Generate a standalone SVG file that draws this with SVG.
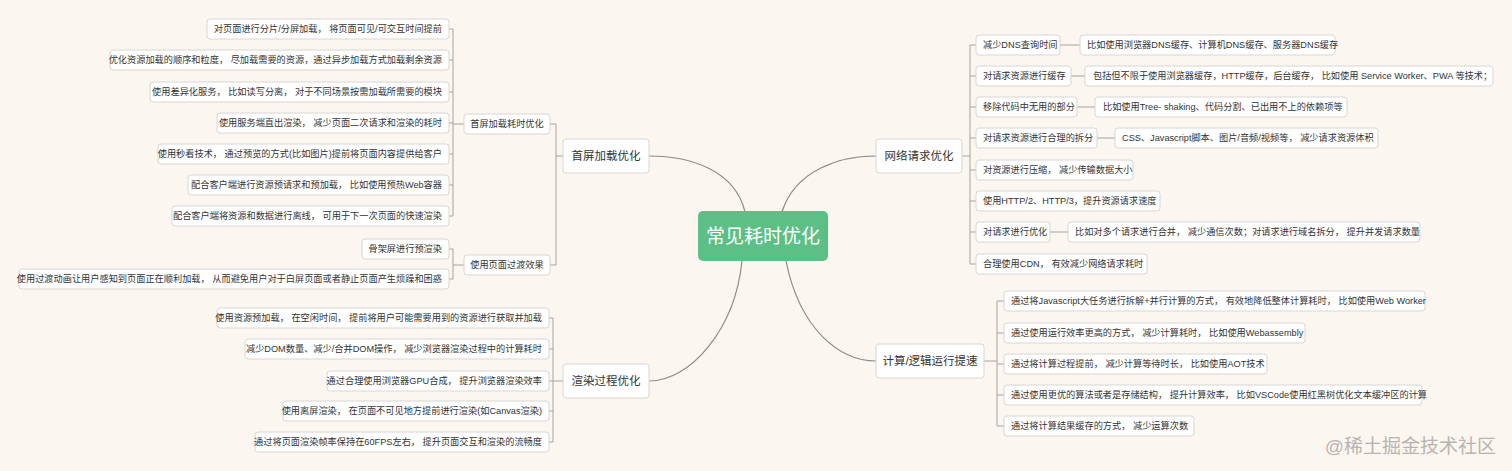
<svg xmlns="http://www.w3.org/2000/svg" width="1512" height="471" viewBox="0 0 1512 471">
<style>
text{font-family:"Liberation Sans","Noto Sans CJK SC",sans-serif;fill:#333;dominant-baseline:central}
.n rect{fill:#fff;stroke:#d9d6d3;stroke-width:1}
.l text{font-size:9.2px}
.m text{font-size:11.5px}
.c{fill:none;stroke:#a9a39e;stroke-width:1}
.cc{fill:none;stroke:#8f8a86;stroke-width:1.2}
.e{text-anchor:end}
.s{text-anchor:start}
</style>
<rect width="1512" height="471" fill="#fcf6f1"/>
<g id="connectors">
<path class="cc" d="M745 212C735 170 690 156 649 156"/>
<path class="cc" d="M742 261C735 330 690 381 649 381"/>
<path class="cc" d="M782 212C795 170 840 156 876 156"/>
<path class="cc" d="M786 261C800 330 840 361 876 361"/>
<path class="c" d="M563 156H556M556 124V265M550 124H556M550 265H556"/>
<path class="c" d="M464 124H453M453 29V216M449 29H453M449 60H453M449 92H453M449 123H453M449 154H453M449 185H453M449 216H453"/>
<path class="c" d="M464 265H453M453 249V279M449 249H453M449 279H453"/>
<path class="c" d="M563 381H553M553 318V442M549 318H553M549 349H553M549 381H553M549 411H553M549 442H553"/>
<path class="c" d="M962 156H970M970 45V264M970 45H976M970 76H976M970 107H976M970 138H976M970 170H976M970 201H976M970 232H976M970 264H976"/>
<path class="c" d="M1060 45H1080M1071 76H1085M1077 107H1095M1097 138H1115M1050 232H1068"/>
<path class="c" d="M984 361H997M997 301V426M997 301H1004M997 333H1004M997 364H1004M997 395H1004M997 426H1004"/>
</g>
<g id="center"><rect x="698" y="211" width="130" height="50" rx="5" fill="#5bbf86"/><text x="763" y="236" text-anchor="middle" font-size="19" style="fill:#fff">常见耗时优化</text></g>
<g id="n-sp" class="n m"><rect x="563" y="139" width="86" height="34" rx="3"/><text x="606" y="156" text-anchor="middle">首屏加载优化</text></g>
<g id="n-xr" class="n m"><rect x="563" y="364" width="86" height="34" rx="3"/><text x="606" y="381" text-anchor="middle">渲染过程优化</text></g>
<g id="n-wl" class="n m"><rect x="876" y="139" width="86" height="34" rx="3"/><text x="919" y="156" text-anchor="middle">网络请求优化</text></g>
<g id="n-js" class="n m"><rect x="876" y="344" width="108" height="34" rx="3"/><text x="930" y="361" text-anchor="middle">计算/逻辑运行提速</text></g>
<g id="n-sp1" class="n l"><rect x="464" y="114" width="86" height="20" rx="3"/><text x="507" y="124" text-anchor="middle">首屏加载耗时优化</text></g>
<g id="n-sp2" class="n l"><rect x="464" y="255" width="86" height="20" rx="3"/><text x="507" y="265" text-anchor="middle">使用页面过渡效果</text></g>
<g id="a1" class="n l"><rect x="207" y="19" width="242" height="20" rx="3"/><text class="e" x="442" y="29">对页面进行分片/分屏加载， 将页面可见/可交互时间提前</text></g>
<g id="a2" class="n l"><rect x="110" y="50" width="339" height="20" rx="3"/><text class="e" x="442" y="60">优化资源加载的顺序和粒度， 尽加载需要的资源，通过异步加载方式加载剩余资源</text></g>
<g id="a3" class="n l"><rect x="150" y="82" width="299" height="20" rx="3"/><text class="e" x="442" y="92">使用差异化服务， 比如读写分离， 对于不同场景按需加载所需要的模块</text></g>
<g id="a4" class="n l"><rect x="217" y="113" width="232" height="20" rx="3"/><text class="e" x="442" y="123">使用服务端直出渲染， 减少页面二次请求和渲染的耗时</text></g>
<g id="a5" class="n l"><rect x="158" y="144" width="291" height="20" rx="3"/><text class="e" x="442" y="154">使用秒看技术， 通过预览的方式(比如图片)提前将页面内容提供给客户</text></g>
<g id="a6" class="n l"><rect x="188" y="175" width="261" height="20" rx="3"/><text class="e" x="442" y="185">配合客户端进行资源预请求和预加载， 比如使用预热Web容器</text></g>
<g id="a7" class="n l"><rect x="172" y="206" width="277" height="20" rx="3"/><text class="e" x="442" y="216">配合客户端将资源和数据进行离线， 可用于下一次页面的快速渲染</text></g>
<g id="b1" class="n l"><rect x="362" y="239" width="87" height="20" rx="3"/><text class="e" x="442" y="249">骨架屏进行预渲染</text></g>
<g id="b2" class="n l"><rect x="19" y="269" width="430" height="20" rx="3"/><text class="e" x="442" y="279">使用过渡动画让用户感知到页面正在顺利加载， 从而避免用户对于白屏页面或者静止页面产生烦躁和困惑</text></g>
<g id="r1" class="n l"><rect x="217" y="308" width="332" height="20" rx="3"/><text class="e" x="542" y="318">使用资源预加载， 在空闲时间， 提前将用户可能需要用到的资源进行获取并加载</text></g>
<g id="r2" class="n l"><rect x="245" y="339" width="304" height="20" rx="3"/><text class="e" x="542" y="349">减少DOM数量、减少/合并DOM操作， 减少浏览器渲染过程中的计算耗时</text></g>
<g id="r3" class="n l"><rect x="327" y="371" width="222" height="20" rx="3"/><text class="e" x="542" y="381">通过合理使用浏览器GPU合成， 提升浏览器渲染效率</text></g>
<g id="r4" class="n l"><rect x="283" y="401" width="266" height="20" rx="3"/><text class="e" x="542" y="411">使用离屏渲染， 在页面不可见地方提前进行渲染(如Canvas渲染)</text></g>
<g id="r5" class="n l"><rect x="255" y="432" width="294" height="20" rx="3"/><text class="e" x="542" y="442">通过将页面渲染帧率保持在60FPS左右， 提升页面交互和渲染的流畅度</text></g>
<g id="w1" class="n l"><rect x="976" y="35" width="84" height="20" rx="3"/><text class="s" x="983" y="45">减少DNS查询时间</text></g>
<g id="w1a" class="n l"><rect x="1080" y="35" width="255" height="20" rx="3"/><text class="s" x="1087" y="45">比如使用浏览器DNS缓存、计算机DNS缓存、服务器DNS缓存</text></g>
<g id="w2" class="n l"><rect x="976" y="66" width="95" height="20" rx="3"/><text class="s" x="983" y="76">对请求资源进行缓存</text></g>
<g id="w2a" class="n l"><rect x="1085" y="66" width="408" height="20" rx="3"/><text class="s" x="1093" y="76">包括但不限于使用浏览器缓存，HTTP缓存，后台缓存， 比如使用 Service Worker、PWA 等技术；</text></g>
<g id="w3" class="n l"><rect x="976" y="97" width="101" height="20" rx="3"/><text class="s" x="983" y="107">移除代码中无用的部分</text></g>
<g id="w3a" class="n l"><rect x="1095" y="97" width="252" height="20" rx="3"/><text class="s" x="1103" y="107">比如使用Tree- shaking、代码分割、已出用不上的依赖项等</text></g>
<g id="w4" class="n l"><rect x="976" y="128" width="121" height="20" rx="3"/><text class="s" x="983" y="138">对请求资源进行合理的拆分</text></g>
<g id="w4a" class="n l"><rect x="1115" y="128" width="263" height="20" rx="3"/><text class="s" x="1122" y="138">CSS、Javascript脚本、图片/音频/视频等， 减少请求资源体积</text></g>
<g id="w5" class="n l"><rect x="976" y="160" width="157" height="20" rx="3"/><text class="s" x="983" y="170">对资源进行压缩， 减少传输数据大小</text></g>
<g id="w6" class="n l"><rect x="976" y="191" width="184" height="20" rx="3"/><text class="s" x="983" y="201">使用HTTP/2、HTTP/3，提升资源请求速度</text></g>
<g id="w7" class="n l"><rect x="976" y="222" width="74" height="20" rx="3"/><text class="s" x="983" y="232">对请求进行优化</text></g>
<g id="w7a" class="n l"><rect x="1068" y="222" width="352" height="20" rx="3"/><text class="s" x="1075" y="232">比如对多个请求进行合并， 减少通信次数；对请求进行域名拆分， 提升并发请求数量</text></g>
<g id="w8" class="n l"><rect x="976" y="254" width="171" height="20" rx="3"/><text class="s" x="983" y="264">合理使用CDN， 有效减少网络请求耗时</text></g>
<g id="j1" class="n l"><rect x="1004" y="291" width="421" height="20" rx="3"/><text class="s" x="1011" y="301">通过将Javascript大任务进行拆解+并行计算的方式， 有效地降低整体计算耗时， 比如使用Web Worker</text></g>
<g id="j2" class="n l"><rect x="1004" y="323" width="301" height="20" rx="3"/><text class="s" x="1011" y="333">通过使用运行效率更高的方式， 减少计算耗时， 比如使用Webassembly</text></g>
<g id="j3" class="n l"><rect x="1004" y="354" width="263" height="20" rx="3"/><text class="s" x="1011" y="364">通过将计算过程提前， 减少计算等待时长， 比如使用AOT技术</text></g>
<g id="j4" class="n l"><rect x="1004" y="385" width="418" height="20" rx="3"/><text class="s" x="1011" y="395">通过使用更优的算法或者是存储结构， 提升计算效率， 比如VSCode使用红黑树优化文本缓冲区的计算</text></g>
<g id="j5" class="n l"><rect x="1004" y="416" width="190" height="20" rx="3"/><text class="s" x="1011" y="426">通过将计算结果缓存的方式， 减少运算次数</text></g>
<text x="1496" y="446" text-anchor="end" font-size="19" style="fill:#b8b4b0">@稀土掘金技术社区</text>
</svg>
